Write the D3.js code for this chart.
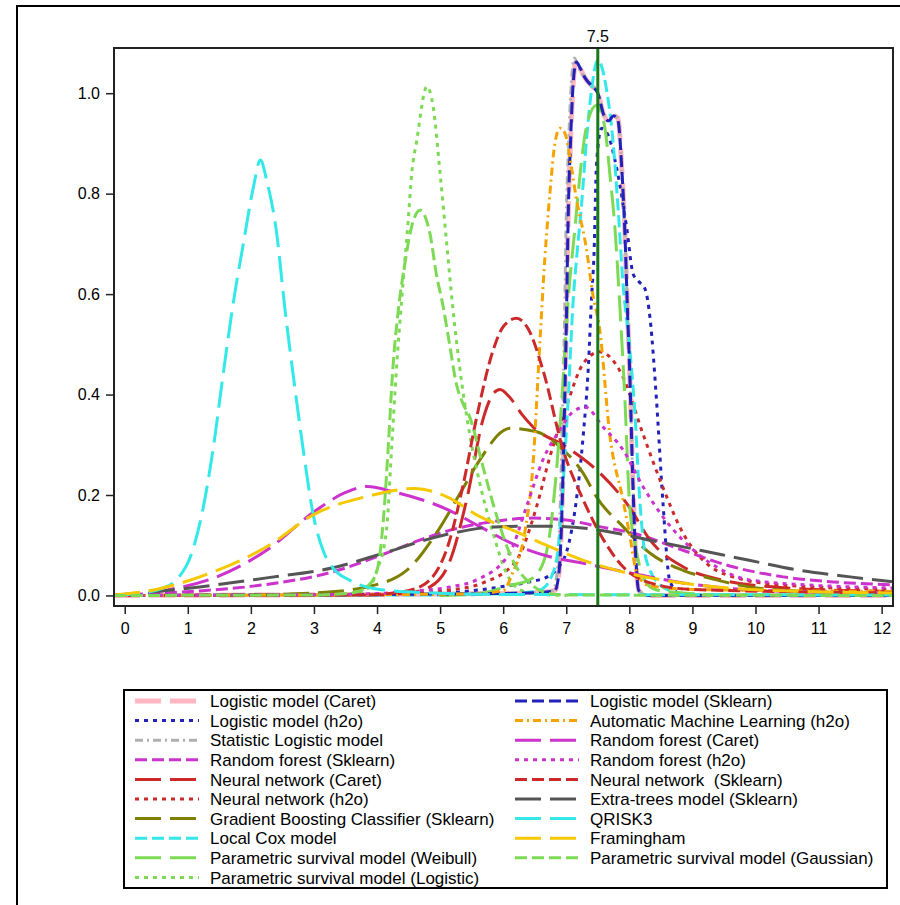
<!DOCTYPE html>
<html>
<head>
<meta charset="utf-8">
<script src="https://cdn.jsdelivr.net/npm/d3@7"></script>
<style>
	body { margin: 0; background: #fff; }
	svg text { font-family: "Liberation Sans", Arial, sans-serif; fill: #000; white-space: pre; }
</style>
</head>
<body>
<svg id="chart" width="900" height="905"></svg>
<script>

// density curves, [risk, density]
var logisticCaret = [[-0.17,0],[6.0,0.004],[6.6,0.006],[6.82,0.01],[6.88,0.04],[6.93,0.16],[6.97,0.36],[7.0,0.53],[7.03,0.75],[7.07,0.91],[7.11,1.02],[7.16,1.065],[7.22,1.05],[7.3,1.03],[7.4,1.015],[7.5,1.0],[7.6,0.955],[7.67,0.945],[7.75,0.955],[7.82,0.95],[7.88,0.85],[7.93,0.72],[7.97,0.57],[8.01,0.43],[8.05,0.25],[8.1,0.08],[8.15,0.01],[8.3,0],[12.2,0]];
var logisticH2o = [[-0.17,0],[4.5,0.002],[5.0,0.004],[5.68,0.012],[6.1,0.02],[6.42,0.027],[6.74,0.04],[6.9,0.06],[7.0,0.085],[7.16,0.19],[7.27,0.32],[7.35,0.455],[7.4,0.59],[7.44,0.68],[7.48,0.86],[7.56,0.93],[7.65,0.92],[7.8,0.85],[7.96,0.73],[8.06,0.64],[8.15,0.625],[8.25,0.61],[8.33,0.55],[8.43,0.39],[8.53,0.19],[8.64,0.03],[8.8,0.003],[9.0,0],[12.2,0]];
var statLogistic = [[-0.17,0],[6.0,0.004],[6.6,0.006],[6.79,0.01],[6.85,0.04],[6.9,0.16],[6.94,0.36],[6.97,0.53],[7.0,0.75],[7.04,0.91],[7.08,1.02],[7.13,1.07],[7.2,1.05],[7.3,1.03],[7.4,1.015],[7.5,1.0],[7.6,0.955],[7.67,0.945],[7.75,0.955],[7.82,0.95],[7.88,0.85],[7.93,0.72],[7.97,0.57],[8.01,0.43],[8.05,0.25],[8.1,0.08],[8.15,0.01],[8.3,0],[12.2,0]];
var rfSklearn = [[-0.17,0],[0.5,0.004],[1.19,0.009],[2.25,0.022],[3.3,0.047],[4.1,0.082],[4.63,0.108],[5.16,0.13],[5.68,0.144],[6.47,0.154],[7.0,0.15],[7.53,0.137],[8.06,0.124],[8.85,0.09],[9.64,0.057],[10.44,0.037],[11.23,0.027],[12.2,0.021]];
var nnCaret = [[-0.17,0],[4.0,0.001],[4.5,0.005],[4.84,0.017],[5.16,0.07],[5.42,0.19],[5.69,0.355],[5.85,0.403],[5.95,0.41],[6.1,0.395],[6.3,0.36],[6.47,0.336],[7.0,0.296],[7.48,0.25],[8.0,0.176],[8.33,0.11],[8.85,0.057],[9.5,0.03],[10.5,0.015],[12.2,0.008]];
var nnH2o = [[-0.17,0],[3.5,0.001],[4.5,0.005],[5.16,0.011],[5.68,0.025],[6.21,0.07],[6.53,0.177],[6.74,0.276],[7.0,0.376],[7.27,0.462],[7.53,0.485],[7.9,0.435],[8.22,0.32],[8.53,0.216],[8.85,0.124],[9.17,0.07],[9.64,0.037],[10.5,0.02],[12.2,0.012]];
var gbc = [[1.4,0],[3.0,0.005],[3.83,0.017],[4.47,0.05],[4.94,0.124],[5.32,0.204],[5.63,0.27],[6.0,0.328],[6.1,0.333],[6.53,0.326],[6.9,0.296],[7.27,0.243],[7.48,0.196],[7.9,0.137],[8.33,0.084],[8.85,0.05],[9.38,0.031],[9.9,0.017],[10.97,0.007],[12.2,0.004]];
var localCox = [[-0.17,0],[5.0,0.001],[6.3,0.005],[6.58,0.011],[6.74,0.031],[6.87,0.09],[6.95,0.223],[7.03,0.39],[7.11,0.588],[7.17,0.68],[7.24,0.774],[7.32,0.906],[7.4,1.006],[7.5,1.066],[7.64,1.006],[7.74,0.906],[7.82,0.774],[7.9,0.62],[8.0,0.5],[8.09,0.36],[8.15,0.22],[8.27,0.07],[8.53,0.017],[8.8,0.005],[9.2,0.001],[12.2,0]];
var weibull = [[5.0,0],[5.68,0.005],[6.1,0.02],[6.4,0.03],[6.58,0.05],[6.74,0.124],[6.85,0.256],[6.93,0.39],[7.03,0.588],[7.14,0.734],[7.22,0.84],[7.32,0.933],[7.48,0.976],[7.61,0.933],[7.69,0.84],[7.77,0.734],[7.85,0.574],[7.93,0.39],[8.0,0.19],[8.11,0.09],[8.27,0.025],[8.43,0.011],[8.85,0.005],[9.5,0.001],[12.2,0]];
var paramLogistic = [[3.0,0],[3.7,0.005],[3.9,0.02],[4.0,0.05],[4.15,0.13],[4.23,0.29],[4.31,0.455],[4.39,0.588],[4.49,0.74],[4.55,0.84],[4.63,0.906],[4.79,1.013],[4.89,0.973],[5.0,0.84],[5.1,0.707],[5.2,0.574],[5.31,0.455],[5.47,0.32],[5.63,0.223],[5.84,0.124],[6.05,0.045],[6.27,0.011],[6.6,0.002],[7.0,0]];
var logisticSklearn = [[-0.17,0],[6.0,0.004],[6.6,0.006],[6.82,0.01],[6.88,0.04],[6.93,0.16],[6.97,0.36],[7.0,0.53],[7.03,0.75],[7.07,0.91],[7.11,1.02],[7.16,1.062],[7.22,1.05],[7.3,1.03],[7.4,1.015],[7.5,1.0],[7.6,0.955],[7.67,0.945],[7.75,0.955],[7.82,0.945],[7.88,0.85],[7.93,0.72],[7.97,0.57],[8.01,0.43],[8.05,0.25],[8.1,0.08],[8.15,0.01],[8.3,0],[12.2,0]];
var autoMl = [[-0.17,0],[5.5,0.003],[6.0,0.01],[6.15,0.045],[6.34,0.124],[6.47,0.256],[6.58,0.5],[6.66,0.67],[6.74,0.8],[6.82,0.9],[6.9,0.93],[6.98,0.92],[7.06,0.87],[7.16,0.79],[7.32,0.69],[7.42,0.6],[7.53,0.53],[7.69,0.32],[7.9,0.19],[8.0,0.124],[8.12,0.045],[8.3,0.02],[9.0,0.012],[12.2,0.008]];
var rfCaret = [[-0.17,0.001],[0.67,0.011],[1.46,0.037],[2.25,0.09],[3.04,0.17],[3.5,0.205],[3.84,0.217],[4.3,0.205],[5.1,0.172],[5.63,0.137],[6.2,0.1],[6.74,0.077],[7.27,0.064],[7.8,0.05],[8.33,0.037],[8.85,0.025],[9.9,0.011],[11.0,0.007],[12.2,0.005]];
var rfH2o = [[-0.17,0],[3.5,0.002],[4.5,0.008],[5.16,0.017],[5.58,0.031],[6.1,0.084],[6.37,0.177],[6.63,0.27],[6.9,0.33],[7.1,0.365],[7.3,0.375],[7.58,0.336],[7.9,0.29],[8.22,0.216],[8.53,0.157],[8.85,0.11],[9.38,0.057],[9.9,0.031],[11.0,0.02],[12.2,0.015]];
var nnSklearn = [[-0.17,0],[3.8,0.001],[4.26,0.005],[4.68,0.017],[5.1,0.09],[5.37,0.223],[5.58,0.355],[5.84,0.488],[6.0,0.535],[6.21,0.552],[6.4,0.53],[6.63,0.449],[6.95,0.29],[7.27,0.19],[7.53,0.124],[7.9,0.057],[8.33,0.025],[9.0,0.012],[12.2,0.005]];
var extraTrees = [[-0.17,0],[1.19,0.017],[2.25,0.035],[3.3,0.055],[4.1,0.084],[5.05,0.12],[5.95,0.137],[6.74,0.138],[7.53,0.13],[8.33,0.11],[9.12,0.09],[9.9,0.07],[10.7,0.05],[11.5,0.037],[12.2,0.027]];
var qrisk3 = [[-0.17,0],[0.2,0.004],[0.6,0.014],[0.85,0.035],[1.05,0.08],[1.22,0.16],[1.4,0.29],[1.56,0.44],[1.73,0.59],[1.88,0.7],[2.04,0.813],[2.15,0.867],[2.25,0.827],[2.41,0.72],[2.54,0.57],[2.67,0.44],[2.83,0.29],[2.99,0.16],[3.15,0.088],[3.3,0.055],[3.57,0.03],[4.1,0.011],[4.89,0.005],[6.0,0.002],[12.2,0.001]];
var framingham = [[-0.17,0.001],[0.5,0.012],[1.19,0.037],[2.25,0.097],[3.04,0.164],[3.84,0.197],[4.6,0.213],[5.1,0.197],[5.63,0.157],[6.15,0.13],[6.74,0.097],[7.27,0.07],[7.8,0.05],[8.33,0.035],[9.38,0.017],[10.5,0.009],[12.2,0.005]];
var gaussian = [[-0.17,0],[3.0,0.001],[3.6,0.005],[3.84,0.017],[4.0,0.05],[4.1,0.15],[4.18,0.3],[4.25,0.45],[4.33,0.56],[4.44,0.66],[4.55,0.735],[4.68,0.767],[4.84,0.72],[4.94,0.64],[5.05,0.574],[5.15,0.5],[5.26,0.42],[5.37,0.38],[5.47,0.355],[5.68,0.256],[5.9,0.157],[6.15,0.07],[6.42,0.025],[6.69,0.005],[7.0,0.001],[12.2,0]];

var leftNames = ["Logistic model (Caret)", "Logistic model (h2o)", "Statistic Logistic model", "Random forest (Sklearn)",
	"Neural network (Caret)", "Neural network (h2o)", "Gradient Boosting Classifier (Sklearn)", "Local Cox model",
	"Parametric survival model (Weibull)", "Parametric survival model (Logistic)"];
var rightNames = ["Logistic model (Sklearn)", "Automatic Machine Learning (h2o)", "Random forest (Caret)", "Random forest (h2o)",
	"Neural network  (Sklearn)", "Extra-trees model (Sklearn)", "QRISK3", "Framingham", "Parametric survival model (Gaussian)"];
var leftData = [logisticCaret, logisticH2o, statLogistic, rfSklearn, nnCaret, nnH2o, gbc, localCox, weibull, paramLogistic];
var rightData = [logisticSklearn, autoMl, rfCaret, rfH2o, nnSklearn, extraTrees, qrisk3, framingham, gaussian];

var xTicks = [0, 1, 2, 3, 4, 5, 6, 7, 8, 9, 10, 11, 12];
var yTicks = [0, 0.2, 0.4, 0.6, 0.8, 1.0];
var refLine = 7.5;

// styles
var longDash = "26,9", medDash = "12,5", dotted = "4,5", dashDot = "8,4,2,4";
var leftStyle = [
	{ c: "#ffb6c1", d: longDash, w: 5 },
	{ c: "#2222bb", d: dotted, w: 3 },
	{ c: "#b0b0b0", d: dashDot, w: 3 },
	{ c: "#cc33cc", d: medDash, w: 3 },
	{ c: "#cc2a2a", d: longDash, w: 3 },
	{ c: "#cc2a2a", d: dotted, w: 3 },
	{ c: "#7f7f00", d: longDash, w: 3 },
	{ c: "#33e8e8", d: medDash, w: 3 },
	{ c: "#7dda55", d: longDash, w: 3 },
	{ c: "#7dda55", d: dotted, w: 3 }
];
var rightStyle = [
	{ c: "#2222bb", d: medDash, w: 3 },
	{ c: "#f5a300", d: dashDot, w: 3 },
	{ c: "#cc33cc", d: longDash, w: 3 },
	{ c: "#cc33cc", d: dotted, w: 3 },
	{ c: "#cc2a2a", d: medDash, w: 3 },
	{ c: "#555555", d: longDash, w: 3 },
	{ c: "#33e8e8", d: longDash, w: 3 },
	{ c: "#f5c800", d: longDash, w: 3 },
	{ c: "#7dda55", d: medDash, w: 3 }
];

var svg = d3.select("#chart");
var plot = { left: 114, top: 48, right: 893, bottom: 606 };

var x = d3.scaleLinear().domain([-0.17, 12.18]).range([plot.left, plot.right]);
var y = d3.scaleLinear().domain([-0.021, 1.09]).range([plot.bottom, plot.top]);

// outer frame
svg.append("rect")
	.attr("x", 17).attr("y", 6).attr("width", 920).attr("height", 940)
	.attr("fill", "none").attr("stroke", "#000").attr("stroke-width", 2);

svg.append("clipPath").attr("id", "plotclip")
	.append("rect")
	.attr("x", plot.left).attr("y", plot.top)
	.attr("width", plot.right - plot.left).attr("height", plot.bottom - plot.top);

var line = d3.line()
	.x(function (d) { return x(d[0]); })
	.y(function (d) { return y(d[1]); })
	.curve(d3.curveMonotoneX);

var series = [];
leftData.forEach(function (d, i) { series.push({ name: leftNames[i], values: d, style: leftStyle[i], col: 0, row: i }); });
rightData.forEach(function (d, i) { series.push({ name: rightNames[i], values: d, style: rightStyle[i], col: 1, row: i }); });

var curves = svg.append("g").attr("clip-path", "url(#plotclip)");
curves.selectAll("path")
	.data(series)
	.enter().append("path")
	.attr("d", function (s) { return line(s.values); })
	.attr("fill", "none")
	.attr("stroke", function (s) { return s.style.c; })
	.attr("stroke-width", function (s) { return s.style.w; })
	.attr("stroke-dasharray", function (s) { return s.style.d; });

// reference line
svg.append("line")
	.attr("x1", x(refLine)).attr("x2", x(refLine))
	.attr("y1", plot.top).attr("y2", plot.bottom)
	.attr("stroke", "#1a7a1a").attr("stroke-width", 3);
svg.append("text")
	.attr("x", x(refLine)).attr("y", 42)
	.attr("text-anchor", "middle").attr("font-size", 16)
	.text(d3.format(".1f")(refLine));

// axes
var yAxis = svg.append("g")
	.attr("transform", "translate(" + plot.left + ",0)")
	.call(d3.axisLeft(y).tickValues(yTicks).tickFormat(d3.format(".1f")).tickSize(8).tickPadding(6));
var xAxis = svg.append("g")
	.attr("transform", "translate(0," + plot.bottom + ")")
	.call(d3.axisBottom(x).tickValues(xTicks).tickFormat(d3.format("d")).tickSize(8).tickPadding(9));

[xAxis, yAxis].forEach(function (a) {
	a.select(".domain").remove();
	a.selectAll(".tick line").attr("stroke", "#222").attr("stroke-width", 1.5);
	a.selectAll(".tick text").attr("font-size", 16).attr("font-family", null).attr("fill", "#000");
});

svg.append("rect")
	.attr("x", plot.left).attr("y", plot.top)
	.attr("width", plot.right - plot.left).attr("height", plot.bottom - plot.top)
	.attr("fill", "none").attr("stroke", "#222").attr("stroke-width", 2);

// legend
var legend = svg.append("g");
legend.append("rect")
	.attr("x", 124).attr("y", 690).attr("width", 763).attr("height", 198)
	.attr("fill", "none").attr("stroke", "#000").attr("stroke-width", 2);

var colX = [135, 515], rowY0 = 701, rowH = 19.6;

var items = legend.selectAll("g.item")
	.data(series)
	.enter().append("g")
	.attr("class", "item")
	.attr("transform", function (s) { return "translate(" + colX[s.col] + "," + (rowY0 + s.row * rowH) + ")"; });

items.append("line")
	.attr("x1", 0).attr("x2", 64).attr("y1", 0).attr("y2", 0)
	.attr("stroke", function (s) { return s.style.c; })
	.attr("stroke-width", function (s) { return s.style.w; })
	.attr("stroke-dasharray", function (s) { return s.style.d; });

items.append("text")
	.attr("x", 75).attr("y", 0).attr("dy", "0.36em")
	.attr("font-size", 17)
	.text(function (s) { return s.name; });

</script>
</body>
</html>
